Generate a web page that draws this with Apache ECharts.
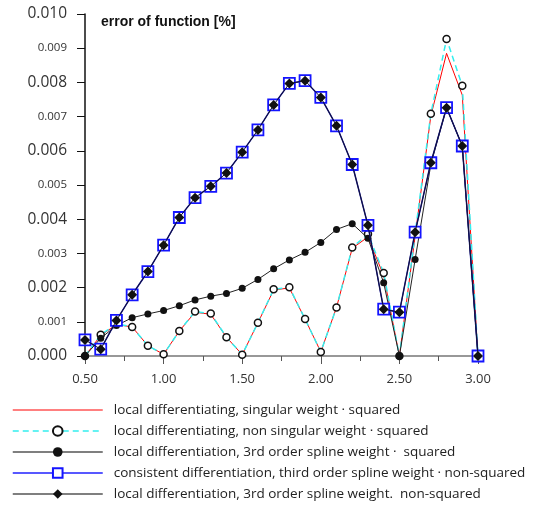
<!DOCTYPE html>
<html><head><meta charset="utf-8">
<script src="https://cdn.jsdelivr.net/npm/echarts@6/dist/echarts.min.js"></script>
<style>html,body{margin:0;padding:0;background:#fff}#c{width:537px;height:508px}</style>
</head><body><div id="c"></div>
<script>
var xValues = [0.5,0.6,0.7,0.8,0.9,1.0,1.1,1.2,1.3,1.4,1.5,1.6,1.7,1.8,1.9,2.0,2.1,2.2,2.3,2.4,2.5,2.6,2.7,2.8,2.9,3.0];
var seriesNames = [
  'local differentiating, singular weight · squared',
  'local differentiating, non singular weight · squared',
  'local differentiation, 3rd order spline weight ·  squared',
  'consistent differentiation, third order spline weight · non-squared',
  'local differentiation, 3rd order spline weight.  non-squared'
];
// values in units of 1e-3 %
var singularSquared = [0,0.60,0.92,0.85,0.30,0.05,0.73,1.28,1.22,0.55,0.04,0.97,1.93,1.99,1.08,0.12,1.42,3.15,3.48,2.35,0,3.50,7.02,8.85,7.63,0];
var nonSingularSquared = [0,0.62,0.94,0.85,0.30,0.05,0.73,1.30,1.24,0.55,0.04,0.97,1.95,2.01,1.08,0.12,1.42,3.17,3.57,2.43,0,3.58,7.08,9.27,7.90,0];
var splineSquared = [0,0.52,0.89,1.12,1.23,1.33,1.47,1.64,1.75,1.83,1.98,2.24,2.55,2.81,3.03,3.32,3.70,3.87,3.44,2.14,0,2.82,5.60,7.26,6.14,0];
var consistentNonSquared = [0.47,0.20,1.04,1.79,2.47,3.24,4.05,4.63,4.96,5.35,5.96,6.61,7.34,7.97,8.05,7.56,6.73,5.60,3.82,1.37,1.28,3.62,5.65,7.26,6.14,0];
var splineNonSquared = [0.47,0.20,1.04,1.79,2.47,3.24,4.05,4.63,4.96,5.35,5.96,6.61,7.34,7.97,8.05,7.56,6.73,5.60,3.82,1.37,1.28,3.62,5.65,7.26,6.14,0];
var yTicks = [0,0.001,0.002,0.003,0.004,0.005,0.006,0.007,0.008,0.009,0.010];
var titleText = 'error of function [%]';

function pts(arr){ return xValues.map(function(x,i){ return [x, arr[i]/1000]; }); }
var FONT = 'Open Sans';
var chart = echarts.init(document.getElementById('c'));
chart.setOption({
  animation:false,
  title:{text:titleText,left:96,top:10,textStyle:{fontFamily:'Liberation Sans',fontSize:14,fontWeight:'bold',color:'#111'}},
  grid:{left:85,right:59,top:14,bottom:152,containLabel:false},
  legend:{
    orient:'vertical',left:12,top:403,padding:0,itemWidth:90,itemHeight:12,itemGap:7,
    textStyle:{fontFamily:FONT,fontSize:13.5,color:'#222',padding:[0,0,0,6]},
    data:[
      {name:seriesNames[0],itemStyle:{opacity:0},lineStyle:{color:'#ff0000',width:1}},
      {name:seriesNames[1],lineStyle:{color:'#33eeee',width:1.5}},
      {name:seriesNames[2],lineStyle:{color:'#555',width:1.5}},
      {name:seriesNames[3],lineStyle:{color:'#2020ff',width:1.5}},
      {name:seriesNames[4],lineStyle:{color:'#555',width:1.5}}
    ]
  },
  xAxis:{
    type:'value',min:0.5,max:3.0,interval:0.5,
    axisLine:{lineStyle:{color:'#777',width:1.5}},
    axisTick:{length:8,lineStyle:{color:'#555'}},
    minorTick:{show:true,splitNumber:2,length:5,lineStyle:{color:'#555'}},
    splitLine:{show:false},
    axisLabel:{margin:17,fontFamily:FONT,fontSize:13,color:'#333',formatter:function(v){return v.toFixed(2);}}
  },
  yAxis:{
    type:'value',min:0,max:0.010,interval:0.001,
    axisLine:{show:true,lineStyle:{color:'#111',width:1.5}},
    axisTick:{show:true,length:8,lineStyle:{color:'#111'}},
    splitLine:{show:false},
    axisLabel:{margin:18,color:'#333',fontFamily:FONT,
      formatter:function(v){
        var k = Math.round(v*1000);
        var s = (k/1000).toFixed(3);
        return (k%2===0)?'{b|'+s+'}':'{s|'+s+'}';
      },
      rich:{b:{fontSize:15.5,fontFamily:FONT,color:'#333'},s:{fontSize:11.5,fontFamily:FONT,color:'#333'}}
    }
  },
  series:[
    {name:seriesNames[0],type:'line',data:pts(singularSquared),showSymbol:false,symbol:'none',
     lineStyle:{color:'#ff0000',width:1},itemStyle:{color:'#ff0000'},z:2},
    {name:seriesNames[1],type:'line',data:pts(nonSingularSquared),symbol:'circle',symbolSize:7,
     lineStyle:{color:'#33eeee',width:1.5,type:[6,4]},itemStyle:{color:'#ffffff',borderColor:'#111',borderWidth:1.5},z:3},
    {name:seriesNames[2],type:'line',data:pts(splineSquared),symbol:'circle',symbolSize:7,
     lineStyle:{color:'#222',width:1},itemStyle:{color:'#111',borderColor:'#111',borderWidth:0},z:4},
    {name:seriesNames[3],type:'line',data:pts(consistentNonSquared),symbol:'rect',symbolSize:11,
     lineStyle:{color:'#1a1aa0',width:1.5},itemStyle:{color:'#ffffff',borderColor:'#1414ff',borderWidth:1.8},z:5},
    {name:seriesNames[4],type:'line',data:pts(splineNonSquared),symbol:'diamond',symbolSize:10,
     lineStyle:{color:'#111133',width:1},itemStyle:{color:'#111',borderWidth:0},z:6}
  ]
});
</script></body></html>
